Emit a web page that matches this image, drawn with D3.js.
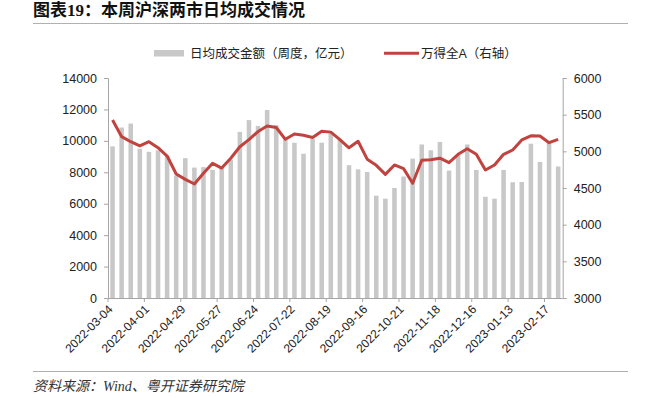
<!DOCTYPE html>
<html>
<head>
<meta charset="utf-8">
<script src="https://cdn.jsdelivr.net/npm/d3@7"></script>
<style>
  body { margin: 0; background: #fff; }
  svg { display: block; }
  text { font-family: "Liberation Sans", Arial, "Noto Sans CJK SC", sans-serif; fill: #222; }
</style>
</head>
<body>
<div id="chart"></div>
<script>
// weekly dates (holiday weeks 2022-10-07 and 2023-01-27 have no trading)
var dates = ["2022-03-04","2022-03-11","2022-03-18","2022-03-25","2022-04-01","2022-04-08","2022-04-15","2022-04-22",
  "2022-04-29","2022-05-06","2022-05-13","2022-05-20","2022-05-27","2022-06-02","2022-06-10","2022-06-17",
  "2022-06-24","2022-07-01","2022-07-08","2022-07-15","2022-07-22","2022-07-29","2022-08-05","2022-08-12",
  "2022-08-19","2022-08-26","2022-09-02","2022-09-09","2022-09-16","2022-09-23","2022-09-30","2022-10-14",
  "2022-10-21","2022-10-28","2022-11-04","2022-11-11","2022-11-18","2022-11-25","2022-12-02","2022-12-09",
  "2022-12-16","2022-12-23","2022-12-30","2023-01-06","2023-01-13","2023-01-20","2023-02-03","2023-02-10",
  "2023-02-17","2023-02-24"];

// 日均成交金额（周度，亿元）
var turnover = [9650, 10850, 11100, 9500, 9300, 9400, 9050, 7800, 8900, 8300, 8330, 8150, 8300, 8800, 10570, 11320,
  10950, 11960, 11000, 10080, 9880, 9180, 10120, 9880, 10480, 10100, 8450, 8190, 8020, 6510, 6320, 7000,
  7730, 8870, 9770, 9400, 9930, 8110, 9110, 9770, 8150, 6440, 6320, 8150, 7370, 7380, 9820, 8660,
  9850, 8370];

// 万得全A（右轴）
var windA = [5427, 5200, 5131, 5073, 5131, 5050, 4936, 4691, 4618, 4555, 4700, 4836, 4772, 4905, 5063, 5160,
  5270, 5345, 5325, 5164, 5236, 5220, 5188, 5275, 5262, 5160, 5048, 5138, 4893, 4809, 4686, 4814,
  4764, 4564, 4878, 4886, 4907, 4845, 4959, 5036, 4959, 4745, 4814, 4959, 5018, 5155, 5212, 5209,
  5118, 5164];

var leftTicks = [0, 2000, 4000, 6000, 8000, 10000, 12000, 14000];
var rightTicks = [3000, 3500, 4000, 4500, 5000, 5500, 6000];

var width = 648, height = 398;
var margin = { top: 78, right: 86, bottom: 100, left: 108 };

var svg = d3.select("#chart").append("svg")
  .attr("width", width)
  .attr("height", height);

/* ****** title ****** */
svg.append("text")
  .attr("x", 33).attr("y", 16)
  .style("font-family", "'Liberation Serif', 'Noto Sans CJK SC', serif")
  .style("font-size", "17px")
  .style("font-weight", "bold")
  .style("fill", "#111")
  .text("图表19：本周沪深两市日均成交情况");

svg.append("line")
  .attr("x1", 33).attr("x2", 628).attr("y1", 23.5).attr("y2", 23.5)
  .attr("stroke", "#b0b0b0").attr("stroke-width", 1);

/* ****** legend ****** */
var legend = svg.append("g").style("font-size", "12.5px");
legend.append("rect")
  .attr("x", 154).attr("y", 50).attr("width", 30).attr("height", 6.5)
  .attr("fill", "#c8c8c8");
legend.append("text").attr("x", 190).attr("y", 57.5).text("日均成交金额（周度，亿元）");
legend.append("line")
  .attr("x1", 384).attr("x2", 419).attr("y1", 53.3).attr("y2", 53.3)
  .attr("stroke", "#c0433f").attr("stroke-width", 3);
legend.append("text").attr("x", 421).attr("y", 57.5).text("万得全A（右轴）");

/* ****** scales ****** */
var x = d3.scaleBand()
  .domain(dates)
  .range([margin.left, width - margin.right + 0.7])
  .paddingInner(0.5)
  .paddingOuter(0.25);

var yL = d3.scaleLinear().domain([0, 14000]).range([height - margin.bottom, margin.top]);
var yR = d3.scaleLinear().domain([3000, 6000]).range([height - margin.bottom, margin.top]);

var plotBottom = height - margin.bottom;
var plotRight = width - margin.right + 0.7;

/* ****** bars ****** */
svg.append("g").selectAll("rect")
  .data(dates)
  .enter().append("rect")
  .attr("x", function (d) { return x(d); })
  .attr("width", x.bandwidth())
  .attr("y", function (d, i) { return yL(turnover[i]); })
  .attr("height", function (d, i) { return plotBottom - yL(turnover[i]); })
  .attr("fill", "#c8c8c8");

/* ****** line ****** */
var line = d3.line()
  .x(function (d, i) { return x(dates[i]) + x.bandwidth() / 2; })
  .y(function (d) { return yR(d); });

svg.append("path")
  .datum(windA)
  .attr("d", line)
  .attr("fill", "none")
  .attr("stroke", "#c0433f")
  .attr("stroke-width", 3)
  .attr("stroke-linejoin", "round");

/* ****** axes ****** */
var axisColor = "#a6a6a6";

var gL = svg.append("g")
  .attr("transform", "translate(" + margin.left + ",0)")
  .call(d3.axisLeft(yL).tickValues(leftTicks).tickSize(4).tickPadding(7).tickFormat(d3.format("d")));
var gR = svg.append("g")
  .attr("transform", "translate(" + plotRight + ",0)")
  .call(d3.axisRight(yR).tickValues(rightTicks).tickSize(4).tickPadding(7).tickFormat(d3.format("d")));

// x axis: tick every 4 weeks at category boundary
var step = x.step();
var x0 = margin.left;
var gX = svg.append("g");
gX.append("line")
  .attr("x1", x0).attr("x2", plotRight)
  .attr("y1", plotBottom + 0.5).attr("y2", plotBottom + 0.5)
  .attr("stroke", axisColor);
var labelIdx = d3.range(0, dates.length, 4);
gX.selectAll(".xt")
  .data(labelIdx)
  .enter().append("line")
  .attr("x1", function (i) { return x0 + i * step; })
  .attr("x2", function (i) { return x0 + i * step; })
  .attr("y1", plotBottom).attr("y2", plotBottom + 4)
  .attr("stroke", axisColor);
gX.selectAll(".xl")
  .data(labelIdx)
  .enter().append("text")
  .attr("text-anchor", "end")
  .style("font-size", "12px")
  .attr("transform", function (i) {
    var cx = x(dates[i]) + x.bandwidth() / 2;
    return "translate(" + (cx + 1) + "," + (plotBottom + 12) + ") rotate(-45)";
  })
  .text(function (i) { return dates[i]; });

[gL, gR].forEach(function (g) {
  g.select(".domain").attr("stroke", axisColor);
  g.selectAll(".tick line").attr("stroke", axisColor);
  g.selectAll(".tick text").style("font-size", "12.5px").style("fill", "#222")
    .style("font-family", "'Liberation Sans', Arial, sans-serif");
});

/* ****** source ****** */
svg.append("line")
  .attr("x1", 33).attr("x2", 628).attr("y1", 371.5).attr("y2", 371.5)
  .attr("stroke", "#b0b0b0").attr("stroke-width", 1);
svg.append("text")
  .attr("x", 33).attr("y", 391)
  .style("font-family", "'Liberation Serif', 'Noto Sans CJK SC', serif")
  .style("font-size", "14px")
  .style("font-style", "italic")
  .style("fill", "#333")
  .text("资料来源：Wind、粤开证券研究院");
</script>
</body>
</html>
